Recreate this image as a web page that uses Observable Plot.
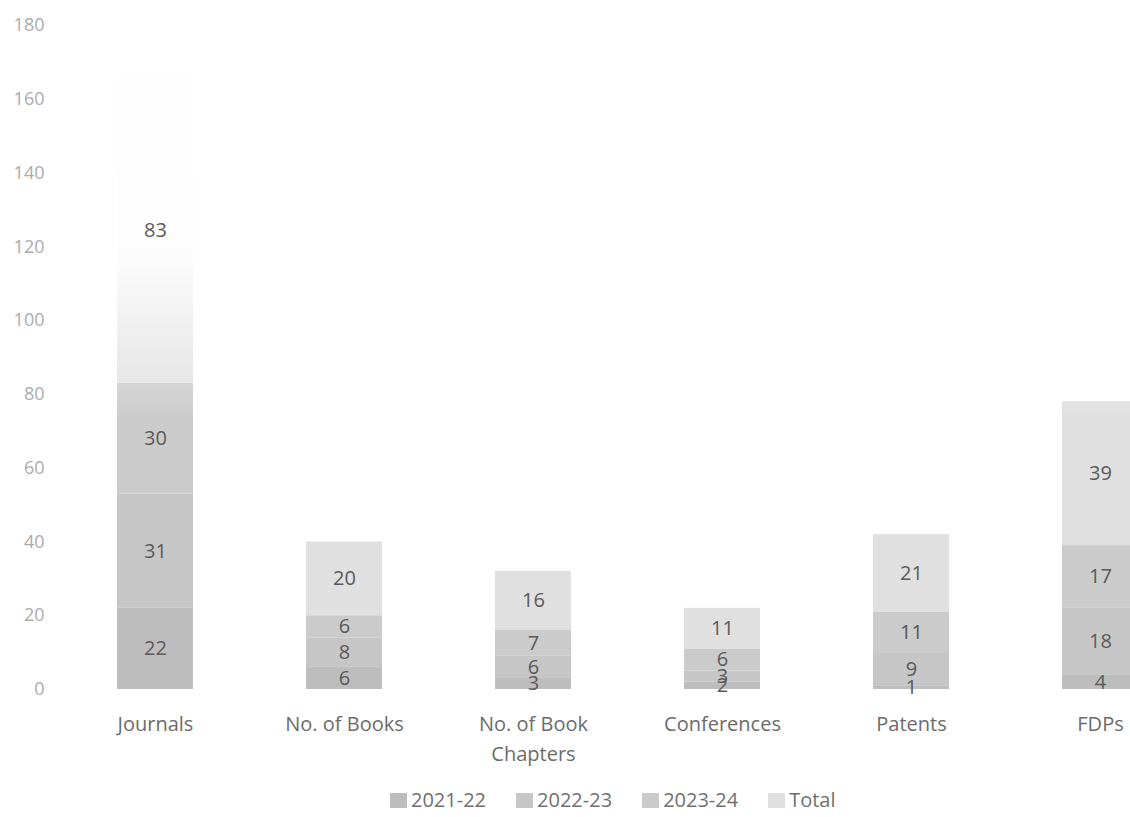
<!DOCTYPE html>
<html>
<head>
<meta charset="utf-8">
<script src="https://cdn.jsdelivr.net/npm/d3@7"></script>
<script src="https://cdn.jsdelivr.net/npm/@observablehq/plot@0.6"></script>
<style>
  html, body { margin: 0; padding: 0; background: #fff; overflow: hidden; width: 1130px; height: 817px; }
  #chart svg { display: block; }
  #legend { position: relative; height: 47px; font-family: "Open Sans", sans-serif; font-size: 20px; color: #707070; }
  #legend .items { position: absolute; left: 390px; top: 18px; display: flex; align-items: center; line-height: 24px; white-space: nowrap; }
  #legend .item { display: flex; align-items: center; margin-right: 30px; }
  #legend .sw { width: 17px; height: 15px; margin-right: 4px; }
</style>
</head>
<body>
<div id="chart"></div>
<div id="legend"></div>
<script>
// ---- data ----
const categories = ["Journals", "No. of Books", "No. of Book Chapters", "Conferences", "Patents", "FDPs"];
const tickLabels = ["Journals", "No. of Books", "No. of Book\nChapters", "Conferences", "Patents", "FDPs"];
const series = ["2021-22", "2022-23", "2023-24", "Total"];
const v2021_22 = [22, 6, 3, 2, 1, 4];
const v2022_23 = [31, 8, 6, 3, 9, 18];
const v2023_24 = [30, 6, 7, 6, 11, 17];
const vTotal   = [83, 20, 16, 11, 21, 39];
const yTicks = [0, 20, 40, 60, 80, 100, 120, 140, 160, 180];
const seriesColors = ["#bdbdbd", "#c6c6c6", "#cbcbcb", "#e0e0e0"];

const seriesValues = [v2021_22, v2022_23, v2023_24, vTotal];
const table = series.flatMap((s, i) =>
  categories.map((c, j) => ({ category: c, series: s, value: seriesValues[i][j] }))
);

const chart = Plot.plot({
  width: 1130,
  height: 770,
  marginTop: 25,
  marginBottom: 81,
  marginLeft: 52,
  marginRight: 0,
  style: { fontFamily: '"Open Sans", sans-serif', fontSize: "20px", background: "transparent", overflow: "hidden" },
  x: { domain: categories, range: [60.5, 1194.5], paddingInner: 0.6, paddingOuter: 0.3, axis: null },
  y: { domain: [0, 180] },
  color: { domain: series, range: seriesColors },
  marks: [
    Plot.axisY(yTicks, { tickSize: 0, tickPadding: 8, fontSize: 18, color: "#ababab", label: null }),
    Plot.barY(table, { x: "category", y: "value", fill: "series" }),
    Plot.text(table, Plot.stackY({
      x: "category", y: "value", z: "series",
      text: d => String(d.value), fill: "#5a5a5a", fontSize: 20
    })),
    Plot.text(categories, {
      x: d => d, text: (d, i) => tickLabels[i],
      frameAnchor: "bottom", lineAnchor: "top", dy: 20, lineHeight: 1.5,
      fill: "#6b6b6b", fontSize: 20
    })
  ]
});

// emulate the washed-out top of the scanned original over the bars only
const ns = "http://www.w3.org/2000/svg";
const defs = document.createElementNS(ns, "defs");
const grad = document.createElementNS(ns, "linearGradient");
grad.setAttribute("id", "fade");
grad.setAttribute("gradientUnits", "userSpaceOnUse");
grad.setAttribute("x1", "0"); grad.setAttribute("y1", "0");
grad.setAttribute("x2", "0"); grad.setAttribute("y2", "420");
[[0, 1], [0.6, 0.93], [1, 0]].forEach(([o, a]) => {
  const st = document.createElementNS(ns, "stop");
  st.setAttribute("offset", o);
  st.setAttribute("stop-color", "#fff");
  st.setAttribute("stop-opacity", a);
  grad.appendChild(st);
});
defs.appendChild(grad);
chart.insertBefore(defs, chart.firstChild);
const barG = chart.querySelector('g[aria-label="bar"]');
if (barG) {
  const r = document.createElementNS(ns, "rect");
  r.setAttribute("x", 100); r.setAttribute("y", 0);
  r.setAttribute("width", 1030); r.setAttribute("height", 420);
  r.setAttribute("fill", "url(#fade)");
  barG.after(r);
}

document.getElementById("chart").appendChild(chart);

// legend below the chart
const items = d3.select("#legend").append("div").attr("class", "items");
series.forEach((s, i) => {
  const it = items.append("div").attr("class", "item");
  it.append("span").attr("class", "sw").style("background", seriesColors[i]);
  it.append("span").text(s);
});
</script>
</body>
</html>
